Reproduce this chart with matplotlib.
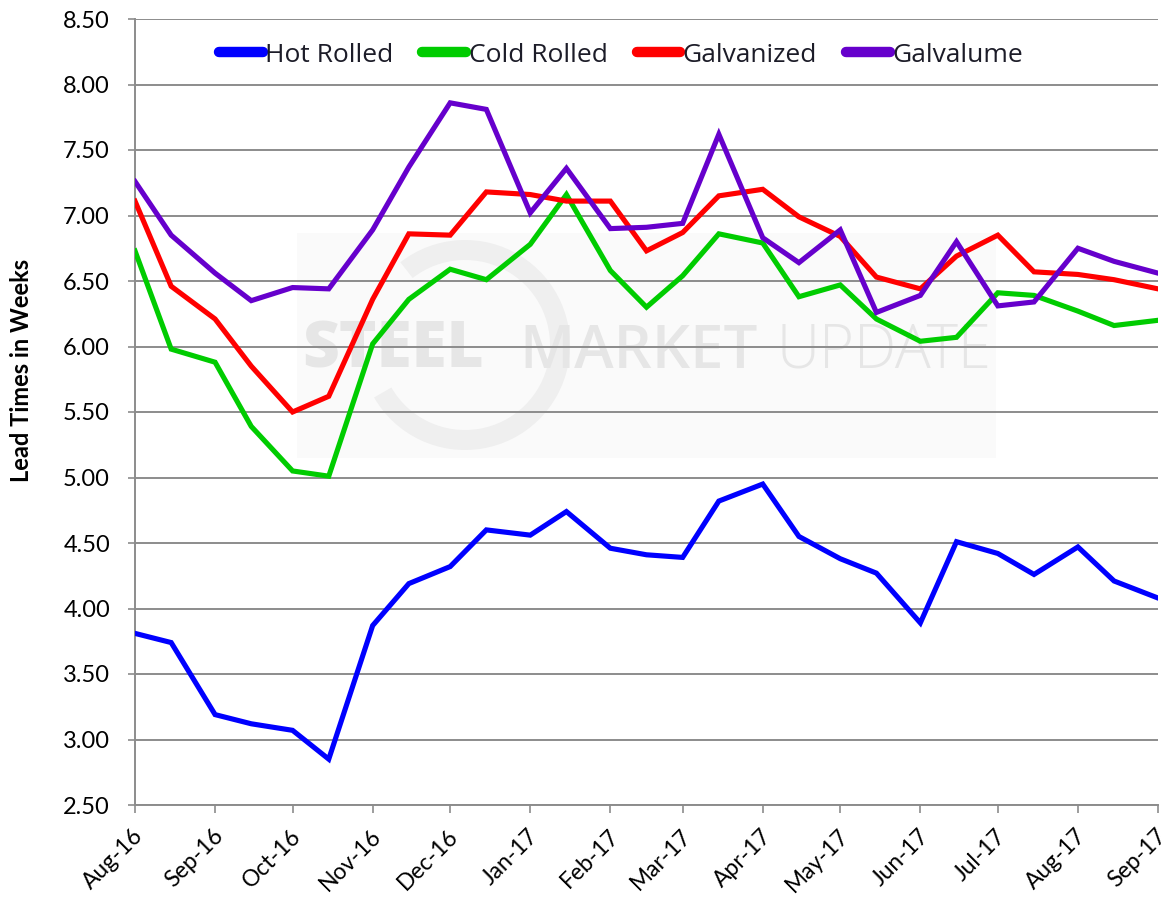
import numpy as np
import pandas as pd
import matplotlib
matplotlib.use("Agg")
import matplotlib.pyplot as plt
import matplotlib.dates as mdates
import matplotlib.transforms as mtransforms
from matplotlib.patches import Rectangle, Wedge

# --- Lead time survey, twice a month (1st and 15th) ---
dates = pd.to_datetime([
    "2016-08-01", "2016-08-15", "2016-09-01", "2016-09-15", "2016-10-01", "2016-10-15",
    "2016-11-01", "2016-11-15", "2016-12-01", "2016-12-15", "2017-01-01", "2017-01-15",
    "2017-02-01", "2017-02-15", "2017-03-01", "2017-03-15", "2017-04-01", "2017-04-15",
    "2017-05-01", "2017-05-15", "2017-06-01", "2017-06-15", "2017-07-01", "2017-07-15",
    "2017-08-01", "2017-08-15", "2017-09-01",
])

hot_rolled = [3.81, 3.74, 3.19, 3.12, 3.07, 2.85, 3.87, 4.19, 4.32, 4.60, 4.56, 4.74,
              4.46, 4.41, 4.39, 4.82, 4.95, 4.55, 4.38, 4.27, 3.89, 4.51, 4.42, 4.26,
              4.47, 4.21, 4.08]
cold_rolled = [6.73, 5.98, 5.88, 5.39, 5.05, 5.01, 6.02, 6.36, 6.59, 6.51, 6.78, 7.16,
               6.58, 6.30, 6.54, 6.86, 6.79, 6.38, 6.47, 6.21, 6.04, 6.07, 6.41, 6.39,
               6.27, 6.16, 6.20]
galvanized = [7.11, 6.46, 6.21, 5.85, 5.50, 5.62, 6.36, 6.86, 6.85, 7.18, 7.16, 7.11,
              7.11, 6.73, 6.87, 7.15, 7.20, 6.99, 6.84, 6.53, 6.44, 6.69, 6.85, 6.57,
              6.55, 6.51, 6.44]
galvalume = [7.26, 6.85, 6.56, 6.35, 6.45, 6.44, 6.89, 7.37, 7.86, 7.81, 7.02, 7.36,
             6.90, 6.91, 6.94, 7.62, 6.83, 6.64, 6.89, 6.26, 6.39, 6.80, 6.31, 6.34,
             6.75, 6.65, 6.56]

series = [
    ("Hot Rolled", hot_rolled, "#0000ff"),
    ("Cold Rolled", cold_rolled, "#00cc00"),
    ("Galvanized", galvanized, "#ff0000"),
    ("Galvalume", galvalume, "#6600cc"),
]

W, H = 1161, 899
fig = plt.figure(figsize=(W / 100, H / 100), dpi=100)
ax = fig.add_axes([135 / W, 1 - 805 / H, (1158 - 135) / W, (805 - 19) / H])


def fx(x, y):
    # pixel position -> figure fraction
    return x / W, 1 - y / H


# faint logo panel behind the plot
grey = "#e6e6e6"
x0, y0 = fx(297, 458)
ax.add_patch(Rectangle((x0, y0), (996 - 297) / W, (458 - 233) / H,
                       transform=fig.transFigure, facecolor="#fafafa",
                       edgecolor="none", zorder=0.1, clip_on=False))
ax.add_patch(Wedge((465, H - 345), 105, -150, 128, width=20,
                   transform=None, facecolor="#efefef", edgecolor="none",
                   zorder=0.15, clip_on=False))
ax.text(*fx(302, 368), "STEEL", transform=fig.transFigure, fontsize=46,
        family="Open Sans", fontweight="heavy", color=grey, va="baseline",
        ha="left", zorder=0.2)
ax.text(*fx(519, 368), "MARKET", transform=fig.transFigure, fontsize=43,
        family="Open Sans", fontweight="semibold", color=grey, va="baseline",
        ha="left", zorder=0.2)
ax.text(*fx(777, 368), "UPDATE", transform=fig.transFigure, fontsize=43,
        family="Open Sans", fontweight="light", color=grey, va="baseline",
        ha="left", zorder=0.2)

for name, vals, color in series:
    ax.plot(dates, vals, color=color, lw=3.7, label=name, zorder=3,
            solid_joinstyle="miter")

ax.set_ylim(2.5, 8.5)
ax.set_yticks(np.arange(2.5, 8.51, 0.5))
ax.yaxis.set_major_formatter(plt.FuncFormatter(lambda v, p: f"{v:.2f}"))
ax.set_xlim(pd.Timestamp("2016-08-01"), pd.Timestamp("2017-09-01"))
ax.xaxis.set_major_locator(mdates.MonthLocator())
ax.xaxis.set_major_formatter(mdates.DateFormatter("%b-%y"))

ax.grid(axis="y", color="#8c8c8c", lw=1.4, zorder=1)
for gl in ax.get_ygridlines():
    gl.set_zorder(1)

for s in ["top", "right"]:
    ax.spines[s].set_visible(False)
for s in ["left", "bottom"]:
    ax.spines[s].set_color("#8c8c8c")
    ax.spines[s].set_linewidth(1.4)
    ax.spines[s].set_zorder(1)

ax.tick_params(axis="y", length=5, width=1.2, color="#8c8c8c", pad=13,
               labelsize=17, labelcolor="black")
ax.tick_params(axis="x", length=6, width=1.2, color="#8c8c8c", pad=14,
               labelsize=16.5, labelcolor="black")
for lab in ax.get_yticklabels() + ax.get_xticklabels():
    lab.set_family("Lato")
nudge = mtransforms.ScaledTranslation(5 / 100, 0, fig.dpi_scale_trans)
for lab in ax.get_xticklabels():
    lab.set_rotation(45)
    lab.set_ha("right")
    lab.set_va("center")
    lab.set_rotation_mode("anchor")
    lab.set_transform(lab.get_transform() + nudge)

fig.text(*fx(22, 370), "Lead Times in Weeks", rotation=90, ha="center",
         va="center", fontsize=17, fontweight="bold", family="Lato")

leg = ax.legend(loc="center", bbox_to_anchor=fx(621, 55), bbox_transform=fig.transFigure,
                ncol=4, frameon=False, handlelength=1.65, handletextpad=0.1,
                columnspacing=1.1, prop={"family": "Open Sans", "size": 19})
for h in leg.get_lines():
    h.set_linewidth(7.5)
    h.set_solid_capstyle("round")
for t in leg.get_texts():
    t.set_color("#1c1c28")

fig.savefig("out.png", dpi=100)
